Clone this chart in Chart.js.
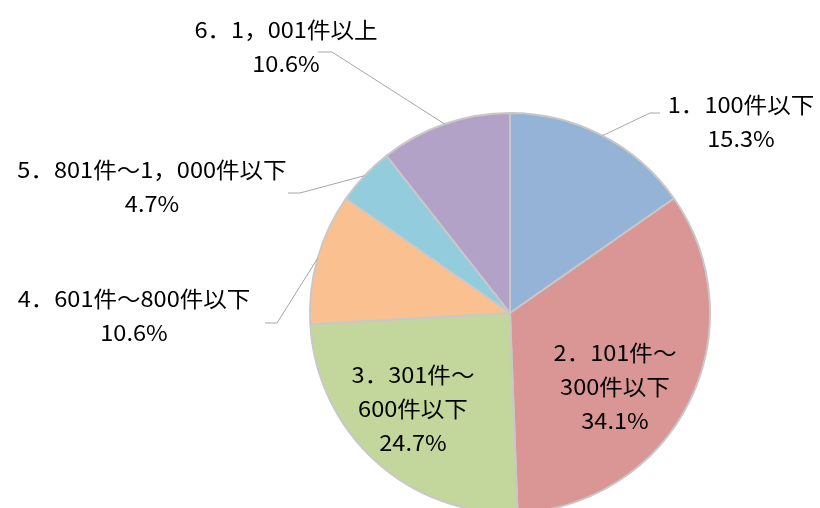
<!DOCTYPE html>
<html>
<head>
<meta charset="utf-8">
<script src="https://cdn.jsdelivr.net/npm/chart.js@4.4.1/dist/chart.umd.min.js"></script>
<style>
html,body{margin:0;padding:0;background:#fff;overflow:hidden;}
#wrap{width:820px;height:508px;}
</style>
</head>
<body>
<div id="wrap"><canvas id="c" width="820" height="508"></canvas></div>
<script>
// Data
const categories = ["1．100件以下", "2．101件～300件以下", "3．301件～600件以下", "4．601件～800件以下", "5．801件～1，000件以下", "6．1，001件以上"];
const values = [15.3, 34.1, 24.7, 10.6, 4.7, 10.6];
const labelLines = [
  ["1．100件以下", "15.3%"],
  ["2．101件～", "300件以下", "34.1%"],
  ["3．301件～", "600件以下", "24.7%"],
  ["4．601件～800件以下", "10.6%"],
  ["5．801件～1，000件以下", "4.7%"],
  ["6．1，001件以上", "10.6%"]
];
const colors = ["#95B3D7", "#D99694", "#C3D69B", "#FAC090", "#93CDDD", "#B2A2C7"];

// Label layout (text block centre x, first line middle y; leader elbow & end)
const labelLayout = [
  {x: 741, y: 105, elbow: [650, 113], end: [660, 113]},
  {x: 615, y: 353},
  {x: 413, y: 375},
  {x: 134, y: 299, elbow: [277, 323], end: [265, 323]},
  {x: 152, y: 170, elbow: [300, 193], end: [288, 193]},
  {x: 286, y: 30, elbow: [332, 52], end: [318, 52]}
];
const lineGap = 34;
const textScaleX = 1.07;

const labelPlugin = {
  id: 'pieLabels',
  afterDatasetsDraw(chart) {
    const ctx = chart.ctx;
    const meta = chart.getDatasetMeta(0);
    ctx.save();
    meta.data.forEach((arc, i) => {
      const lay = labelLayout[i];
      if (lay.elbow) {
        const mid = (arc.startAngle + arc.endAngle) / 2;
        const px = arc.x + Math.cos(mid) * arc.outerRadius;
        const py = arc.y + Math.sin(mid) * arc.outerRadius;
        ctx.beginPath();
        ctx.strokeStyle = '#A6A6A6';
        ctx.lineWidth = 1;
        ctx.moveTo(px, py);
        ctx.lineTo(lay.elbow[0], lay.elbow[1]);
        ctx.lineTo(lay.end[0], lay.end[1]);
        ctx.stroke();
      }
      ctx.fillStyle = '#000';
      ctx.font = '22px "Noto Sans CJK JP", sans-serif';
      ctx.textAlign = 'center';
      ctx.textBaseline = 'middle';
      labelLines[i].forEach((t, k) => {
        ctx.save();
        ctx.translate(lay.x, lay.y + k * lineGap);
        ctx.scale(textScaleX, 1);
        ctx.fillText(t, 0, 0);
        ctx.restore();
      });
    });
    ctx.restore();
  }
};

new Chart(document.getElementById('c'), {
  type: 'pie',
  data: {
    labels: categories,
    datasets: [{
      data: values,
      backgroundColor: colors,
      borderColor: '#C8C8C8',
      borderWidth: 2,
      radius: 200
    }]
  },
  options: {
    responsive: false,
    animation: false,
    layout: {padding: {left: 200, right: 0, top: 118, bottom: 0}},
    plugins: {legend: {display: false}, tooltip: {enabled: false}}
  },
  plugins: [labelPlugin]
});
</script>
</body>
</html>
